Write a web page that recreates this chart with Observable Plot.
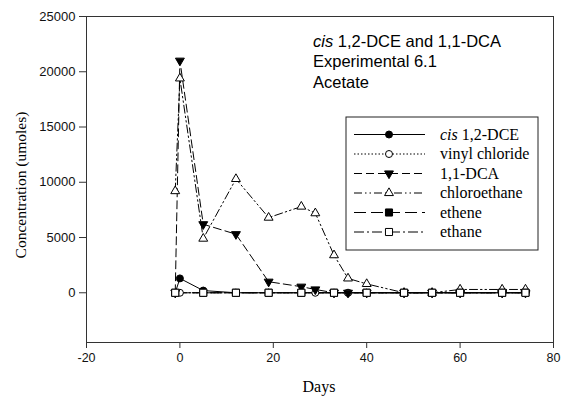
<!DOCTYPE html>
<html><head><meta charset="utf-8">
<script src="https://cdn.jsdelivr.net/npm/d3@7"></script>
<script src="https://cdn.jsdelivr.net/npm/@observablehq/plot@0.6"></script>
<style>body{margin:0;background:#fff;} svg{display:block;}</style>
</head><body><div id="chart"></div>
<script>
// ---- data ----
const cisDays   = [-1, 0, 5, 12, 19, 26, 33, 36, 40, 48, 54, 60, 69, 74];
const cisVals   = [0, 1300, 200, 0, 0, 0, 0, 0, 0, 0, 0, 0, 0, 0];
const vcDays    = [-1, 0, 5, 12, 19, 26, 29, 33, 36, 40, 48, 54, 60, 69, 74];
const vcVals    = [0, 0, 0, 0, 0, 0, 0, 0, 0, 0, 0, 0, 0, 0, 0];
const dcaDays   = [-1, 0, 5, 12, 19, 26, 29, 33, 36, 40, 48, 54, 60, 69, 74];
const dcaVals   = [0, 21000, 6200, 5300, 1000, 550, 300, 0, 0, 0, 0, 0, 0, 0, 0];
const caDays    = [-1, 0, 5, 12, 19, 26, 29, 33, 36, 40, 48, 54, 60, 69, 74];
const caVals    = [9200, 19400, 4900, 10300, 6800, 7800, 7200, 3400, 1300, 800, 0, 0, 300, 300, 300];
const etheneDays = [-1, 5, 12, 19, 26, 33, 40, 48, 54, 60, 69, 74];
const etheneVals = [0, 0, 0, 0, 0, 0, 0, 0, 0, 0, 0, 0];
const ethaneDays = [-1, 5, 12, 19, 26, 33, 40, 48, 54, 60, 69, 74];
const ethaneVals = [0, 0, 0, 0, 0, 0, 0, 0, 0, 0, 0, 0];
const seriesNames = ["cis 1,2-DCE", "vinyl chloride", "1,1-DCA", "chloroethane", "ethene", "ethane"];
const xTicks = [-20, 0, 20, 40, 60, 80];
const yTicks = [0, 5000, 10000, 15000, 20000, 25000];
const titleLines = ["cis 1,2-DCE and 1,1-DCA", "Experimental 6.1", "Acetate"];

// ---- build ----
const sqrt3 = Math.sqrt(3);
const triangleDown = {
  draw(context, size) {
    const y = -Math.sqrt(size / (sqrt3 * 3));
    context.moveTo(0, -y * 2);
    context.lineTo(-sqrt3 * y, y);
    context.lineTo(sqrt3 * y, y);
    context.closePath();
  }
};
const mk = (days, vals) => days.map((d, i) => ({day: d, v: vals[i]}));
const styles = [
  {data: mk(cisDays, cisVals), dash: null, symbol: "circle", r: 3.5, fill: "black"},
  {data: mk(vcDays, vcVals), dash: "1.5,2", symbol: "circle", r: 3.5, fill: "white"},
  {data: mk(dcaDays, dcaVals), dash: "8,4", symbol: triangleDown, r: 3.3, fill: "black"},
  {data: mk(caDays, caVals), dash: "8,3,1.5,3,1.5,3", symbol: "triangle", r: 3.3, fill: "white"},
  {data: mk(etheneDays, etheneVals), dash: "12,5", symbol: "square", r: 4, fill: "black"},
  {data: mk(ethaneDays, ethaneVals), dash: "10,3,2,3", symbol: "square", r: 4, fill: "white"}
];

const fmt = d => String(d);
const marks = [
  Plot.frame({stroke: "#333"}),
  Plot.axisX({ticks: xTicks, tickSize: 6, tickPadding: 5, label: null, tickFormat: fmt, fontSize: 12.5, stroke: "#333"}),
  Plot.axisY({ticks: yTicks, tickSize: 7, tickPadding: 4, label: null, tickFormat: fmt, fontSize: 13, stroke: "#333"})
];
styles.forEach(s => marks.push(Plot.line(s.data, {x: "day", y: "v", stroke: "black", strokeWidth: 1, strokeDasharray: s.dash})));
styles.forEach(s => marks.push(Plot.dot(s.data, {x: "day", y: "v", symbol: s.symbol, r: s.r, fill: s.fill, stroke: "black", strokeWidth: 1})));

const chart = Plot.plot({
  width: 563, height: 396,
  marginLeft: 86, marginTop: 16, marginRight: 10, marginBottom: 54,
  style: {fontFamily: "'Liberation Sans', Arial, sans-serif", fontSize: "13px", color: "#111", background: "white"},
  x: {domain: [-20, 80]},
  y: {domain: [-4500, 25000]},
  marks
});
document.getElementById("chart").appendChild(chart);

const svg = d3.select(chart);
// axis titles
svg.append("text").attr("x", 319).attr("y", 392).attr("text-anchor", "middle")
  .attr("font-family", "'Liberation Serif', 'Times New Roman', serif").attr("font-size", 16).attr("fill", "black").text("Days");
svg.append("text").attr("transform", "translate(26,185) rotate(-90)").attr("text-anchor", "middle")
  .attr("font-family", "'Liberation Serif', 'Times New Roman', serif").attr("font-size", 15.5).attr("fill", "black").text("Concentration (umoles)");

// title block
const tb = [47, 67, 88];
titleLines.forEach((t, i) => {
  const el = svg.append("text").attr("x", 313).attr("y", tb[i]).attr("text-anchor", "start")
    .attr("font-family", "'Liberation Sans', Arial, sans-serif").attr("font-size", 16.5).attr("fill", "black");
  if (t.startsWith("cis ")) {
    el.append("tspan").attr("font-style", "italic").text("cis");
    el.append("tspan").text(t.slice(3));
  } else el.text(t);
});

// legend
const lg = svg.append("g");
lg.append("rect").attr("x", 346).attr("y", 117).attr("width", 192).attr("height", 133)
  .attr("fill", "white").attr("stroke", "#222");
const rowY = [134.5, 154, 173.5, 193, 212.5, 232];
const symMap = {circle: d3.symbolCircle, triangle: d3.symbolTriangle, square: d3.symbolSquare};
styles.forEach((s, i) => {
  const y = rowY[i];
  lg.append("line").attr("x1", 354).attr("x2", 425).attr("y1", y).attr("y2", y)
    .attr("stroke", "black").attr("stroke-dasharray", s.dash);
  const type = typeof s.symbol === "string" ? symMap[s.symbol] : s.symbol;
  lg.append("path").attr("transform", `translate(389,${y})`)
    .attr("d", d3.symbol(type, Math.PI * s.r * s.r)())
    .attr("fill", s.fill).attr("stroke", "black");
  const t = lg.append("text").attr("x", 440).attr("y", y + 5).attr("text-anchor", "start")
    .attr("font-family", "'Liberation Serif', 'Times New Roman', serif").attr("font-size", 16).attr("fill", "black");
  const name = seriesNames[i];
  if (name.startsWith("cis ")) {
    t.append("tspan").attr("font-style", "italic").text("cis");
    t.append("tspan").text(name.slice(3));
  } else t.text(name);
});
</script>
</body></html>
